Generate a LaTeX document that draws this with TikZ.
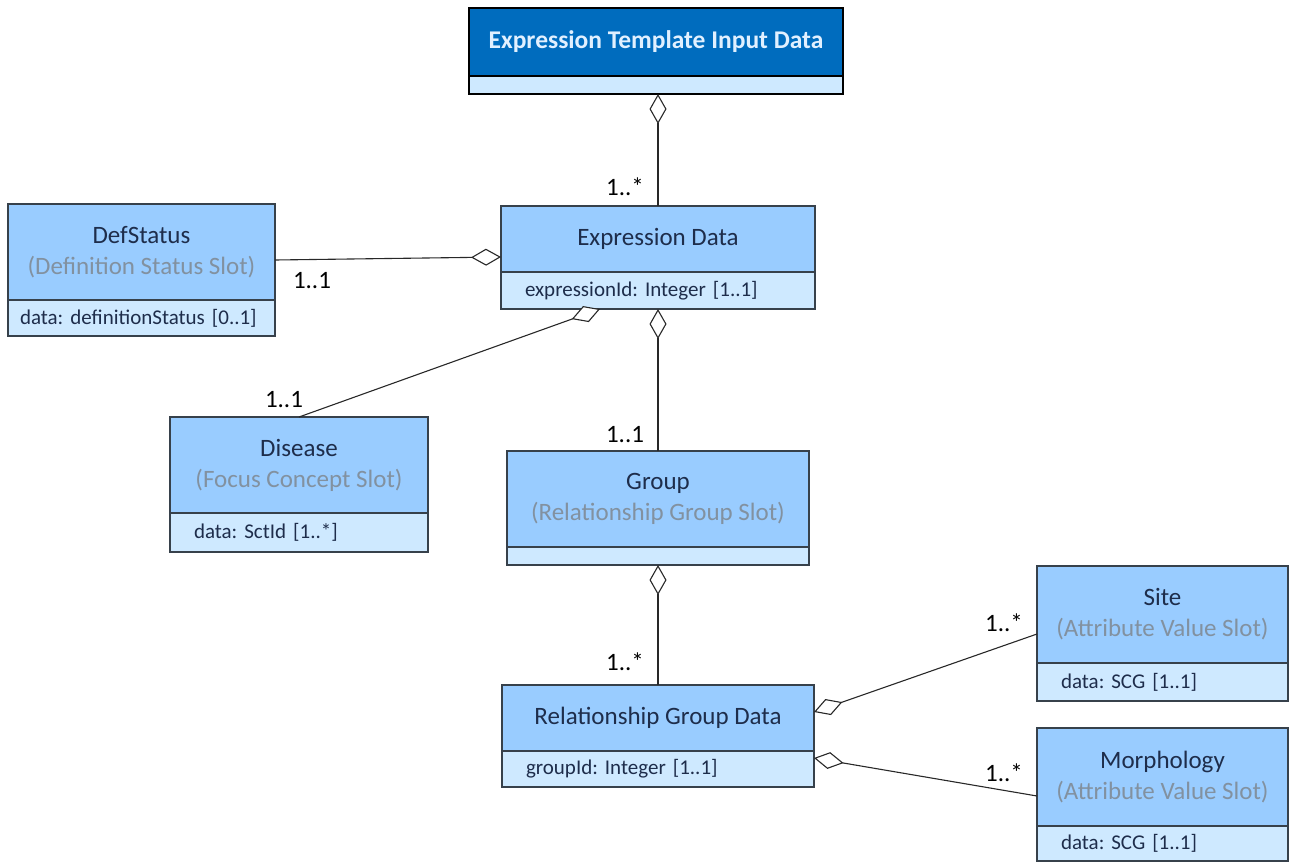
\documentclass[tikz,border=0pt]{standalone}
\usepackage{fontspec}
\setmainfont{Carlito}
\usepackage{xcolor}
\usetikzlibrary{positioning,arrows.meta}
\frenchspacing
\definecolor{headfill}{RGB}{153,204,255}
\definecolor{attrfill}{RGB}{206,233,255}
\definecolor{tplfill}{RGB}{0,108,190}
\definecolor{tpltext}{RGB}{225,240,255}
\definecolor{boxline}{RGB}{55,65,75}
\definecolor{titlecol}{RGB}{30,45,75}
\definecolor{subcol}{RGB}{130,145,160}
\definecolor{linecol}{RGB}{40,40,40}

\begin{document}
\begin{tikzpicture}[x=1pt,y=-1pt,
    head/.style={draw=boxline, fill=headfill, line width=1.2pt, outer sep=0pt, inner sep=0pt, align=center, text=titlecol, font=\fontsize{25}{31}\selectfont},
    attr/.style={draw=boxline, fill=attrfill, line width=1.2pt, outer sep=0pt, inner xsep=24pt, inner ysep=0pt, align=left, text=titlecol, font=\fontsize{21}{24}\selectfont},
    mult/.style={inner sep=0pt, text=black, font=\fontsize{25}{28}\selectfont},
    agg/.style={draw=linecol, line width=1.1pt, -{Diamond[fill=white, length=30pt, width=17pt, line width=1.1pt]}}]%
    \useasboundingbox (0,0) rectangle (1290,862);%
    \node[head, minimum width=374pt, minimum height=68pt, fill=tplfill, draw=black, line width=2.5pt, text=tpltext, font=\bfseries\fontsize{25.5}{30}\selectfont] (tplhead) at (656,42) {Expression Template Input Data};%
    \node[attr, below=0pt of tplhead, text width=326pt, minimum height=18pt, draw=black, line width=2.5pt] (tplattr) {};%
    \node[head, minimum width=314pt, minimum height=66pt] (edhead) at (658,239) {Expression Data};%
    \node[attr, below=0pt of edhead, text width=266pt, minimum height=37pt] (edattr) {expressionId: Integer [1..1]};%
    \node[head, minimum width=267pt, minimum height=96pt] (defhead) at (141.5,252) {DefStatus\\\textcolor{subcol}{(Definition Status Slot)}};%
    \node[attr, below=0pt of defhead, inner xsep=12pt, text width=243pt, minimum height=36pt] (defattr) {data: definitionStatus [0..1]};%
    \node[head, minimum width=258pt, minimum height=96pt] (dishead) at (299,465) {Disease\\\textcolor{subcol}{(Focus Concept Slot)}};%
    \node[attr, below=0pt of dishead, text width=210pt, minimum height=39pt] (disattr) {data: SctId [1..*]};%
    \node[head, minimum width=302pt, minimum height=96pt] (grphead) at (658,499) {Group\\\textcolor{subcol}{(Relationship Group Slot)}};%
    \node[attr, below=0pt of grphead, text width=254pt, minimum height=18pt] (grpattr) {};%
    \node[head, minimum width=312pt, minimum height=66pt] (rgdhead) at (658,718) {Relationship Group Data};%
    \node[attr, below=0pt of rgdhead, text width=264pt, minimum height=36pt] (rgdattr) {groupId: Integer [1..1]};%
    \node[head, minimum width=251pt, minimum height=97pt] (sitehead) at (1162.5,614.5) {Site\\\textcolor{subcol}{(Attribute Value Slot)}};%
    \node[attr, below=0pt of sitehead, text width=203pt, minimum height=38pt] (siteattr) {data: SCG [1..1]};%
    \node[head, minimum width=251pt, minimum height=98pt] (morhead) at (1162.5,777) {Morphology\\\textcolor{subcol}{(Attribute Value Slot)}};%
    \node[attr, below=0pt of morhead, text width=203pt, minimum height=35pt] (morattr) {data: SCG [1..1]};%
    \draw[agg] (edhead.north) -- (edhead.north |- tplattr.south);%
    \draw[agg] ([yshift=-8pt]defhead.east) -- ([yshift=-18pt]edhead.west);%
    \draw[agg] (dishead.north) -- ([xshift=-58pt]edattr.south);%
    \draw[agg] (grphead.north) -- (edattr.south);%
    \draw[agg] (rgdhead.north) -- (grpattr.south);%
    \draw[agg] ([yshift=-19.5pt]sitehead.west) -- ([yshift=6pt]rgdhead.east);%
    \draw[agg] ([yshift=-19pt]morhead.west) -- ([yshift=-40pt]rgdhead.east);%
    \node[mult] (mtpl) at (625,187) {1..*};%
    \node[mult] (mdef) at (312,281) {1..1};%
    \node[mult] (mdis) at (284,400) {1..1};%
    \node[mult] (mgrp) at (625,435) {1..1};%
    \node[mult] (mrgd) at (625,662) {1..*};%
    \node[mult] (msite) at (1004,623) {1..*};%
    \node[mult] (mmor) at (1004,773) {1..*};%
\end{tikzpicture}
\end{document}
